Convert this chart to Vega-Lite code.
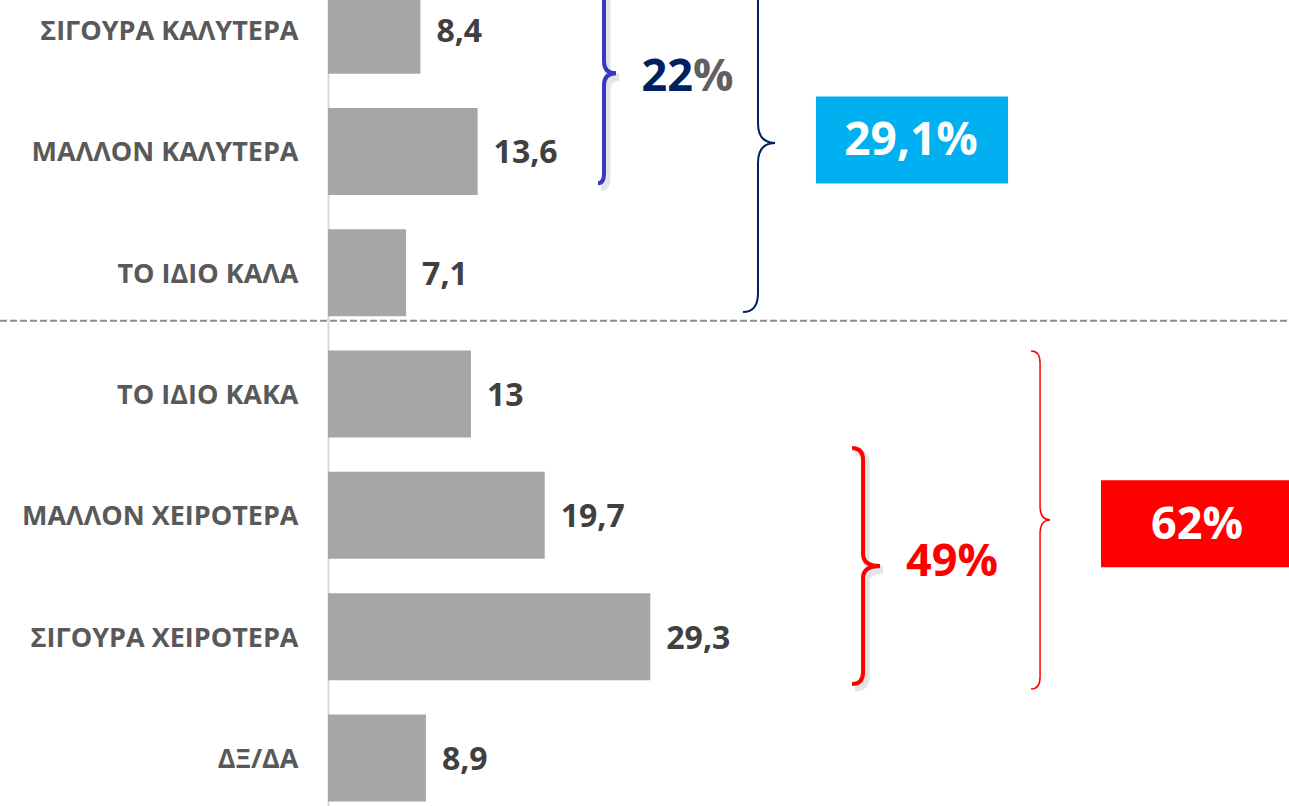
{
  "$schema": "https://vega.github.io/schema/vega-lite/v6.json",
  "width": 961,
  "height": 806,
  "autosize": "none",
  "padding": {"left": 328, "top": 0, "right": 0, "bottom": 0},
  "background": "white",
  "config": {
    "view": {"stroke": null},
    "font": "Open Sans",
    "axisX": {"disable": true},
    "locale": {"number": {"decimal": ",", "thousands": ".", "grouping": [3], "currency": ["", " €"]}}
  },
  "datasets": {
    "main": [
      {"cat": "ΣΙΓΟΥΡΑ ΚΑΛΥΤΕΡΑ", "val": 8.4},
      {"cat": "ΜΑΛΛΟΝ ΚΑΛΥΤΕΡΑ", "val": 13.6},
      {"cat": "ΤΟ ΙΔΙΟ ΚΑΛΑ", "val": 7.1},
      {"cat": "ΤΟ ΙΔΙΟ ΚΑΚΑ", "val": 13},
      {"cat": "ΜΑΛΛΟΝ ΧΕΙΡΟΤΕΡΑ", "val": 19.7},
      {"cat": "ΣΙΓΟΥΡΑ ΧΕΙΡΟΤΕΡΑ", "val": 29.3},
      {"cat": "ΔΞ/ΔΑ", "val": 8.9}
    ]
  },
  "encoding": {
    "y": {
      "field": "cat",
      "type": "nominal",
      "sort": null,
      "title": null,
      "scale": {
        "domain": ["ΣΙΓΟΥΡΑ ΚΑΛΥΤΕΡΑ", "ΜΑΛΛΟΝ ΚΑΛΥΤΕΡΑ", "ΤΟ ΙΔΙΟ ΚΑΛΑ", "ΤΟ ΙΔΙΟ ΚΑΚΑ", "ΜΑΛΛΟΝ ΧΕΙΡΟΤΕΡΑ", "ΣΙΓΟΥΡΑ ΧΕΙΡΟΤΕΡΑ", "ΔΞ/ΔΑ"],
        "range": [-30.5, 818.6],
        "paddingInner": 0.283,
        "paddingOuter": 0.1415
      },
      "axis": {
        "ticks": false,
        "grid": false,
        "domainColor": "#d9d9d9",
        "domainWidth": 2,
        "labelFont": "Open Sans",
        "labelFontWeight": "bold",
        "labelFontSize": 27,
        "labelColor": "#595959",
        "labelPadding": 30,
        "labelOffset": 2,
        "labelLimit": 400
      }
    }
  },
  "layer": [
    {
      "data": {"values": [{"cat": "ΤΟ ΙΔΙΟ ΚΑΛΑ"}]},
      "mark": {"type": "rule", "stroke": "#8c8c8c", "strokeWidth": 2, "strokeDash": [7, 3], "yOffset": 48},
      "encoding": {"x": {"datum": -29.82, "type": "quantitative"}, "x2": {"datum": 87.36}}
    },
    {
      "data": {"name": "main"},
      "mark": {"type": "bar", "color": "#a6a6a6"},
      "encoding": {
        "x": {"field": "val", "type": "quantitative", "axis": null, "scale": {"domain": [0, 87.36], "nice": false, "zero": true}}
      }
    },
    {
      "data": {"name": "main"},
      "mark": {"type": "text", "align": "left", "baseline": "middle", "dx": 16, "yOffset": 2, "font": "Open Sans", "fontWeight": "bold", "fontSize": 32, "color": "#404040"},
      "encoding": {
        "x": {"field": "val", "type": "quantitative"},
        "text": {"field": "val", "type": "quantitative", "format": "~g"}
      }
    },
    {
      "data": {"values": [{"cat": "ΜΑΛΛΟΝ ΚΑΛΥΤΕΡΑ"}]},
      "mark": {"type": "rect", "color": "#00b0f0", "yOffset": -11.5},
      "encoding": {"x": {"datum": 44.36, "type": "quantitative"}, "x2": {"datum": 61.82}}
    },
    {
      "data": {"values": [{"cat": "ΜΑΛΛΟΝ ΧΕΙΡΟΤΕΡΑ"}]},
      "mark": {"type": "rect", "color": "#ff0000", "yOffset": 8.5},
      "encoding": {"x": {"datum": 70.27, "type": "quantitative"}, "x2": {"datum": 87.36}}
    },
    {
      "data": {"values": [{"cat": "ΜΑΛΛΟΝ ΚΑΛΥΤΕΡΑ", "label": "29,1%"}]},
      "mark": {"type": "text", "align": "center", "baseline": "middle", "yOffset": -10.5, "font": "Open Sans", "fontWeight": "bold", "fontSize": 46, "color": "white"},
      "encoding": {"x": {"datum": 53, "type": "quantitative"}, "text": {"field": "label"}}
    },
    {
      "data": {"values": [{"cat": "ΜΑΛΛΟΝ ΧΕΙΡΟΤΕΡΑ", "label": "62%"}]},
      "mark": {"type": "text", "align": "center", "baseline": "middle", "yOffset": 9.6, "font": "Open Sans", "fontWeight": "bold", "fontSize": 45, "color": "white"},
      "encoding": {"x": {"datum": 79, "type": "quantitative"}, "text": {"field": "label"}}
    },
    {
      "data": {"values": [{"cat": "ΣΙΓΟΥΡΑ ΚΑΛΥΤΕΡΑ", "label": "22"}]},
      "mark": {"type": "text", "align": "right", "baseline": "middle", "yOffset": 46.5, "font": "Open Sans", "fontWeight": "bold", "fontSize": 45, "color": "#002060"},
      "encoding": {"x": {"datum": 33.18, "type": "quantitative"}, "text": {"field": "label"}}
    },
    {
      "data": {"values": [{"cat": "ΣΙΓΟΥΡΑ ΚΑΛΥΤΕΡΑ", "label": "%"}]},
      "mark": {"type": "text", "align": "left", "baseline": "middle", "yOffset": 46.5, "font": "Open Sans", "fontWeight": "bold", "fontSize": 45, "color": "#606060"},
      "encoding": {"x": {"datum": 33.18, "type": "quantitative"}, "text": {"field": "label"}}
    },
    {
      "data": {"values": [{"cat": "ΣΙΓΟΥΡΑ ΧΕΙΡΟΤΕΡΑ", "label": "49%"}]},
      "mark": {"type": "text", "align": "center", "baseline": "middle", "yOffset": -74.7, "font": "Open Sans", "fontWeight": "bold", "fontSize": 45, "color": "#ff0000"},
      "encoding": {"x": {"datum": 56.73, "type": "quantitative"}, "text": {"field": "label"}}
    },
    {
      "data": {"values": [{"cat": "ΣΙΓΟΥΡΑ ΚΑΛΥΤΕΡΑ"}]},
      "mark": {"type": "point", "filled": false, "opacity": 0.1, "color": "#000000", "strokeWidth": 7, "size": 4, "xOffset": 3, "yOffset": 47,
        "shape": "M -6 -110 Q 0 -110 0 -100 L 0 -12 Q 0 0 12 0 Q 0 0 0 12 L 0 100 Q 0 110 -6 110"},
      "encoding": {"x": {"datum": 25.09, "type": "quantitative"}}
    },
    {
      "data": {"values": [{"cat": "ΣΙΓΟΥΡΑ ΚΑΛΥΤΕΡΑ"}]},
      "mark": {"type": "point", "filled": false, "opacity": 1, "color": "#3838c0", "strokeWidth": 4, "size": 4, "yOffset": 43,
        "shape": "M -6 -110 Q 0 -110 0 -100 L 0 -12 Q 0 0 12 0 Q 0 0 0 12 L 0 100 Q 0 110 -6 110"},
      "encoding": {"x": {"datum": 25.09, "type": "quantitative"}}
    },
    {
      "data": {"values": [{"cat": "ΜΑΛΛΟΝ ΚΑΛΥΤΕΡΑ"}]},
      "mark": {"type": "point", "filled": false, "opacity": 1, "color": "#002060", "strokeWidth": 2, "size": 4, "yOffset": -8.5,
        "shape": "M -15 -169 Q 0 -169 0 -150 L 0 -20 Q 0 0 17 0 Q 0 0 0 20 L 0 150 Q 0 169 -15 169"},
      "encoding": {"x": {"datum": 39.09, "type": "quantitative"}}
    },
    {
      "data": {"values": [{"cat": "ΣΙΓΟΥΡΑ ΧΕΙΡΟΤΕΡΑ"}]},
      "mark": {"type": "point", "filled": false, "opacity": 0.1, "color": "#000000", "strokeWidth": 7, "size": 4, "xOffset": 3, "yOffset": -66.7,
        "shape": "M -11 -118 Q 0 -118 0 -106 L 0 -12 Q 0 0 17 0 Q 0 0 0 12 L 0 106 Q 0 118 -11 118"},
      "encoding": {"x": {"datum": 48.64, "type": "quantitative"}}
    },
    {
      "data": {"values": [{"cat": "ΣΙΓΟΥΡΑ ΧΕΙΡΟΤΕΡΑ"}]},
      "mark": {"type": "point", "filled": false, "opacity": 1, "color": "#ff0000", "strokeWidth": 4, "size": 4, "yOffset": -70.7,
        "shape": "M -11 -118 Q 0 -118 0 -106 L 0 -12 Q 0 0 17 0 Q 0 0 0 12 L 0 106 Q 0 118 -11 118"},
      "encoding": {"x": {"datum": 48.64, "type": "quantitative"}}
    },
    {
      "data": {"values": [{"cat": "ΜΑΛΛΟΝ ΧΕΙΡΟΤΕΡΑ"}]},
      "mark": {"type": "point", "filled": false, "opacity": 1, "color": "#ff0000", "strokeWidth": 1.5, "size": 4, "yOffset": 4.6,
        "shape": "M -9 -169 Q 0 -169 0 -157 L 0 -14 Q 0 0 10 0 Q 0 0 0 14 L 0 157 Q 0 169 -9 169"},
      "encoding": {"x": {"datum": 64.73, "type": "quantitative"}}
    }
  ]
}
